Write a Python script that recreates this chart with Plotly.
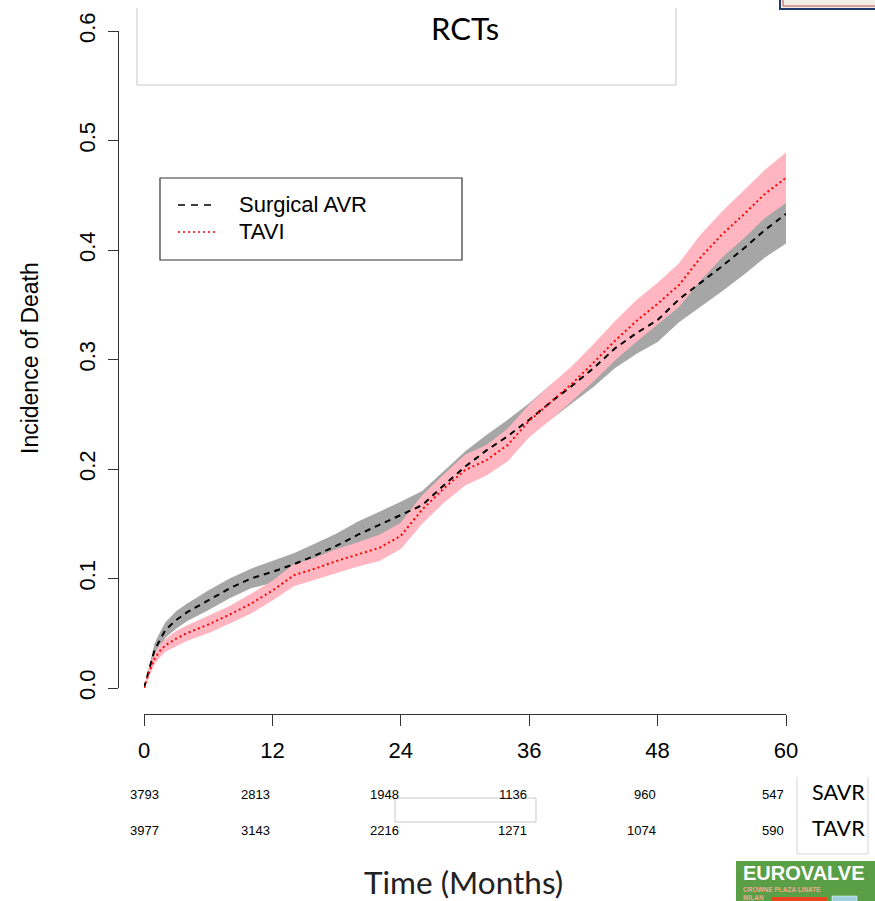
import plotly.graph_objects as go

# ---------------- data ----------------
months = [0, 0.5, 1, 1.5, 2, 3, 4, 6, 8, 10, 12, 14, 16, 18, 20, 22, 24, 26, 28, 30,
          32, 34, 36, 38, 40, 42, 44, 46, 48, 50, 52, 54, 56, 58, 60]

savr_inc = [0, 0.017, 0.035, 0.044, 0.053, 0.062, 0.069, 0.080, 0.091, 0.100, 0.106,
            0.113, 0.121, 0.130, 0.140, 0.149, 0.158, 0.167, 0.185, 0.202, 0.217,
            0.230, 0.245, 0.261, 0.276, 0.292, 0.310, 0.324, 0.336, 0.355, 0.370,
            0.385, 0.401, 0.418, 0.433]
savr_ci = [0, 0.004, 0.006, 0.007, 0.007, 0.008, 0.008, 0.009, 0.009, 0.009, 0.010,
           0.010, 0.011, 0.011, 0.012, 0.012, 0.012, 0.013, 0.013, 0.014, 0.014,
           0.015, 0.015, 0.016, 0.016, 0.017, 0.018, 0.019, 0.020, 0.021, 0.022,
           0.023, 0.024, 0.025, 0.027]

tavi_inc = [0, 0.015, 0.027, 0.034, 0.039, 0.045, 0.050, 0.058, 0.067, 0.077, 0.089,
            0.103, 0.109, 0.116, 0.122, 0.128, 0.139, 0.163, 0.182, 0.199, 0.208,
            0.222, 0.244, 0.261, 0.278, 0.297, 0.317, 0.335, 0.351, 0.368, 0.393,
            0.414, 0.432, 0.451, 0.466]
tavi_ci = [0, 0.004, 0.005, 0.006, 0.006, 0.007, 0.007, 0.008, 0.008, 0.009, 0.009,
           0.010, 0.010, 0.011, 0.011, 0.012, 0.012, 0.013, 0.013, 0.014, 0.014,
           0.015, 0.015, 0.016, 0.016, 0.017, 0.018, 0.019, 0.019, 0.020, 0.021,
           0.021, 0.022, 0.022, 0.023]

x_tick_vals = [0, 12, 24, 36, 48, 60]
y_tick_vals = [0.0, 0.1, 0.2, 0.3, 0.4, 0.5, 0.6]
y_tick_text = ["0.0", "0.1", "0.2", "0.3", "0.4", "0.5", "0.6"]

risk_times = [0, 12, 24, 36, 48, 60]
savr_at_risk = [3793, 2813, 1948, 1136, 960, 547]
tavr_at_risk = [3977, 3143, 2216, 1271, 1074, 590]

series_names = ["Surgical AVR", "TAVI"]
row_labels = ["SAVR", "TAVR"]
title_text = "RCTs"
x_title = "Time (Months)"
y_title = "Incidence of Death"

# ---------------- helpers ----------------
W, H = 875, 901


def px(x):
    return x / W


def py(y):
    return 1 - y / H


ARIAL = "Liberation Sans, Arial, sans-serif"
CALIBRI = "Lato, Carlito, Calibri, sans-serif"

fig = go.Figure()


def band(x, c, h, color):
    up = [a + b for a, b in zip(c, h)]
    lo = [a - b for a, b in zip(c, h)]
    return go.Scatter(x=list(x) + list(x[::-1]), y=up + lo[::-1], fill="toself",
                      fillcolor=color, line=dict(width=0), mode="lines",
                      hoverinfo="skip", showlegend=False)


fig.add_trace(band(months, savr_inc, savr_ci, "#a6a6a6"))
fig.add_trace(band(months, tavi_inc, tavi_ci, "#ffb6c1"))
fig.add_trace(go.Scatter(x=months, y=savr_inc, mode="lines", name=series_names[0],
                         line=dict(color="black", width=2, dash="6px,5px"),
                         showlegend=False))
fig.add_trace(go.Scatter(x=months, y=tavi_inc, mode="lines", name=series_names[1],
                         line=dict(color="red", width=2, dash="2px,3px"),
                         showlegend=False))

shapes = []
annotations = []

# title box (left, bottom, right edges)
box_col = "#c8c8c8"
for (x0, y0, x1, y1) in [(137, 8, 137, 85), (137, 85, 676, 85), (676, 8, 676, 85)]:
    shapes.append(dict(type="line", xref="paper", yref="paper", x0=px(x0), y0=py(y0),
                       x1=px(x1), y1=py(y1), line=dict(color=box_col, width=1)))
annotations.append(dict(text=title_text, x=px(465), y=py(28), xref="paper", yref="paper",
                        showarrow=False, xanchor="center", yanchor="middle",
                        font=dict(family=CALIBRI, size=31, color="black")))

# legend
shapes.append(dict(type="rect", xref="paper", yref="paper", x0=px(160), y0=py(178),
                   x1=px(462), y1=py(260), line=dict(color="#333333", width=1.2),
                   fillcolor="white"))
shapes.append(dict(type="line", xref="paper", yref="paper", x0=px(178), y0=py(205),
                   x1=px(217), y1=py(205), line=dict(color="black", width=1.3, dash="7px,6px")))
shapes.append(dict(type="line", xref="paper", yref="paper", x0=px(178), y0=py(232),
                   x1=px(217), y1=py(232), line=dict(color="red", width=1.6, dash="2px,3px")))
for name, yy in zip(series_names, [205, 232]):
    annotations.append(dict(text=name, x=px(237), y=py(yy), xref="paper", yref="paper",
                            showarrow=False, xanchor="left", yanchor="middle",
                            font=dict(family=ARIAL, size=22, color="black")))

# y axis title
annotations.append(dict(text=y_title, x=px(30), y=py(358), xref="paper", yref="paper",
                        showarrow=False, textangle=-90, xanchor="center", yanchor="middle",
                        font=dict(family=ARIAL, size=23, color="black")))

# risk table
for i, t in enumerate(risk_times):
    anc = "center" if t == 0 else "right"
    for vals, yy in [(savr_at_risk, 794), (tavr_at_risk, 830)]:
        annotations.append(dict(text=str(vals[i]), x=t, y=py(yy), xref="x", yref="paper",
                                showarrow=False, xanchor=anc, yanchor="middle",
                                font=dict(family=ARIAL, size=13, color="black")))

# overlay box in the table
shapes.append(dict(type="rect", xref="paper", yref="paper", x0=px(395), y0=py(798),
                   x1=px(536), y1=py(822), line=dict(color="#c8c8c8", width=1),
                   fillcolor="white"))

# row labels box
for (x0, y0, x1, y1) in [(797, 777, 797, 854), (797, 854, 868, 854), (868, 777, 868, 854)]:
    shapes.append(dict(type="line", xref="paper", yref="paper", x0=px(x0), y0=py(y0),
                       x1=px(x1), y1=py(y1), line=dict(color="#d4d4d4", width=1)))
for lab, yy in zip(row_labels, [792, 828]):
    annotations.append(dict(text=lab, x=px(810), y=py(yy), xref="paper", yref="paper",
                            showarrow=False, xanchor="left", yanchor="middle",
                            font=dict(family=CALIBRI, size=21.5, color="black")))

# x axis title
annotations.append(dict(text=x_title, x=px(464), y=py(882), xref="paper", yref="paper",
                        showarrow=False, xanchor="center", yanchor="middle",
                        font=dict(family=CALIBRI, size=31.5, color="#222222")))

# EUROVALVE logo fragment
shapes.append(dict(type="rect", xref="paper", yref="paper", x0=px(736), y0=py(861),
                   x1=px(876), y1=py(902), line=dict(width=0), fillcolor="#5a9e46"))
shapes.append(dict(type="rect", xref="paper", yref="paper", x0=px(771), y0=py(897),
                   x1=px(827), y1=py(902), line=dict(width=0), fillcolor="#e8461e"))
shapes.append(dict(type="rect", xref="paper", yref="paper", x0=px(832), y0=py(896),
                   x1=px(857), y1=py(902), line=dict(color="#ffffff", width=0.5),
                   fillcolor="#9fd0df"))
annotations.append(dict(text="<b>EUROVALVE</b>", x=px(741), y=py(873), xref="paper",
                        yref="paper", showarrow=False, xanchor="left", yanchor="middle",
                        font=dict(family=ARIAL, size=20, color="white")))
annotations.append(dict(text="<b>CROWNE PLAZA LINATE<br>MILAN</b>", x=px(742), y=py(885),
                        xref="paper", yref="paper", showarrow=False, xanchor="left",
                        yanchor="top", align="left", borderpad=0,
                        font=dict(family=ARIAL, size=6.5, color="#f0a890")))

# framed box at top right
shapes.append(dict(type="rect", xref="paper", yref="paper", x0=px(780), y0=py(-5),
                   x1=px(880), y1=py(9), line=dict(color="#1f3a6b", width=2),
                   fillcolor="#f4efe6"))
shapes.append(dict(type="line", xref="paper", yref="paper", x0=px(783), y0=py(6),
                   x1=px(880), y1=py(6), line=dict(color="#c0504d", width=1)))
shapes.append(dict(type="line", xref="paper", yref="paper", x0=px(783), y0=py(-5),
                   x1=px(783), y1=py(6), line=dict(color="#c0504d", width=1)))

fig.update_layout(
    template="none",
    width=W, height=H,
    margin=dict(l=0, r=0, t=0, b=0, pad=0, autoexpand=False),
    paper_bgcolor="white", plot_bgcolor="white",
    showlegend=False,
    shapes=shapes,
    annotations=annotations,
    xaxis=dict(domain=[px(144), px(786)], range=[0, 60], anchor="free",
               position=py(714), showgrid=False, zeroline=False, showline=True,
               automargin=False,
               linecolor="#333333", linewidth=1.2, ticks="outside", ticklen=11,
               tickwidth=1.2, tickcolor="#333333", tickvals=x_tick_vals,
               tickfont=dict(family=ARIAL, size=22, color="black"),
               ticklabelstandoff=5),
    yaxis=dict(domain=[py(688), py(31)], range=[0, 0.6], anchor="free",
               position=px(118), showgrid=False, zeroline=False, showline=True,
               automargin=False,
               linecolor="#333333", linewidth=1.2, ticks="outside", ticklen=10,
               tickwidth=1.2, tickcolor="#333333", tickvals=y_tick_vals,
               ticktext=y_tick_text, tickangle=-90,
               tickfont=dict(family=ARIAL, size=22, color="black"),
               ticklabelstandoff=4),
)

fig.write_html("out.html")
